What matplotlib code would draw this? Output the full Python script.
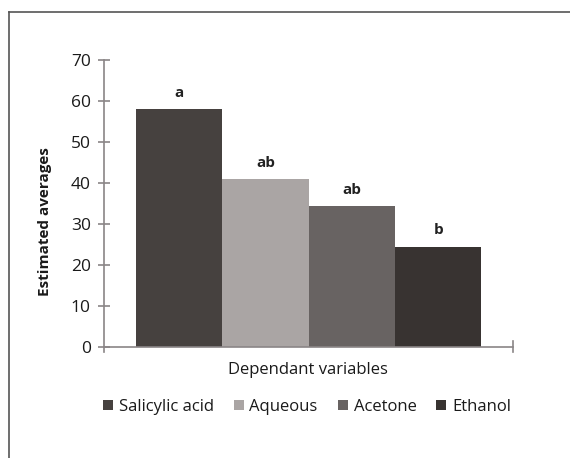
import matplotlib
matplotlib.use("Agg")
import matplotlib.pyplot as plt
from matplotlib.lines import Line2D
from matplotlib.patches import Patch

plt.rcParams['font.family'] = ['Open Sans', 'DejaVu Sans']

categories = ["Salicylic acid", "Aqueous", "Acetone", "Ethanol"]
values = [58.0, 40.9, 34.3, 24.4]
letters = ["a", "ab", "ab", "b"]
colors = ["#46413f", "#aaa5a4", "#686362", "#383331"]
yticks = [0, 10, 20, 30, 40, 50, 60, 70]

W, H = 570, 458
fig = plt.figure(figsize=(W / 100, H / 100), dpi=100)
ax = fig.add_axes([104 / W, 1 - 346.7 / H, (513.3 - 104) / W, (346.7 - 60) / H])

x = list(range(len(categories)))
ax.bar(x, values, width=1.0, color=colors, edgecolor="none", zorder=2)
for xi, v, t in zip(x, values, letters):
    ax.annotate(t, (xi, v), xytext=(0, 9), textcoords="offset points",
                ha="center", va="baseline", fontsize=11, fontweight="bold", color="#222222")

ax.set_xlim(-0.87, 3.87)
ax.set_ylim(0, 70)
ax.set_yticks(yticks)
ax.set_yticklabels([str(t) for t in yticks], fontsize=12.5, color="#1a1a1a")
ax.set_xticks([])
for s in ["top", "right"]:
    ax.spines[s].set_visible(False)
for s in ["left", "bottom"]:
    ax.spines[s].set_color("#8a8586")
    ax.spines[s].set_linewidth(1.2)
ax.tick_params(axis="y", direction="inout", length=9, width=1.2, color="#8a8586", pad=5)
# end tick on the category axis
ax.plot([1, 1], [-0.02, 0.02], transform=ax.transAxes, color="#8a8586", lw=1.2, clip_on=False)
ax.plot([0, 0], [-0.02, 0.0], transform=ax.transAxes, color="#8a8586", lw=1.2, clip_on=False)

fig.text(308 / W, 1 - 370 / H, "Dependant variables", ha="center", va="center",
         fontsize=12, color="#1a1a1a")
fig.text(45 / W, 1 - 222 / H, "Estimated averages", ha="center", va="center", rotation=90,
         fontsize=11, fontweight="bold", color="#1a1a1a")

handles = [Patch(facecolor=c, edgecolor="none") for c in colors]
fig.legend(handles, categories, loc="center", bbox_to_anchor=(307 / W, 1 - 407 / H), ncol=4,
           frameon=False, handlelength=0.6, handleheight=0.6,
           handletextpad=0.35, columnspacing=1.2,
           prop={"size": 12})
for t in fig.legends[0].get_texts():
    t.set_color("#1a1a1a")

# figure frame (top and left edges visible)
fig.add_artist(Line2D([9 / W, 9 / W], [0, 1 - 12 / H], transform=fig.transFigure, color="#555555", lw=1.2))
fig.add_artist(Line2D([9 / W, 1], [1 - 12 / H, 1 - 12 / H], transform=fig.transFigure, color="#555555", lw=1.2))

fig.savefig("out.png", dpi=100)
